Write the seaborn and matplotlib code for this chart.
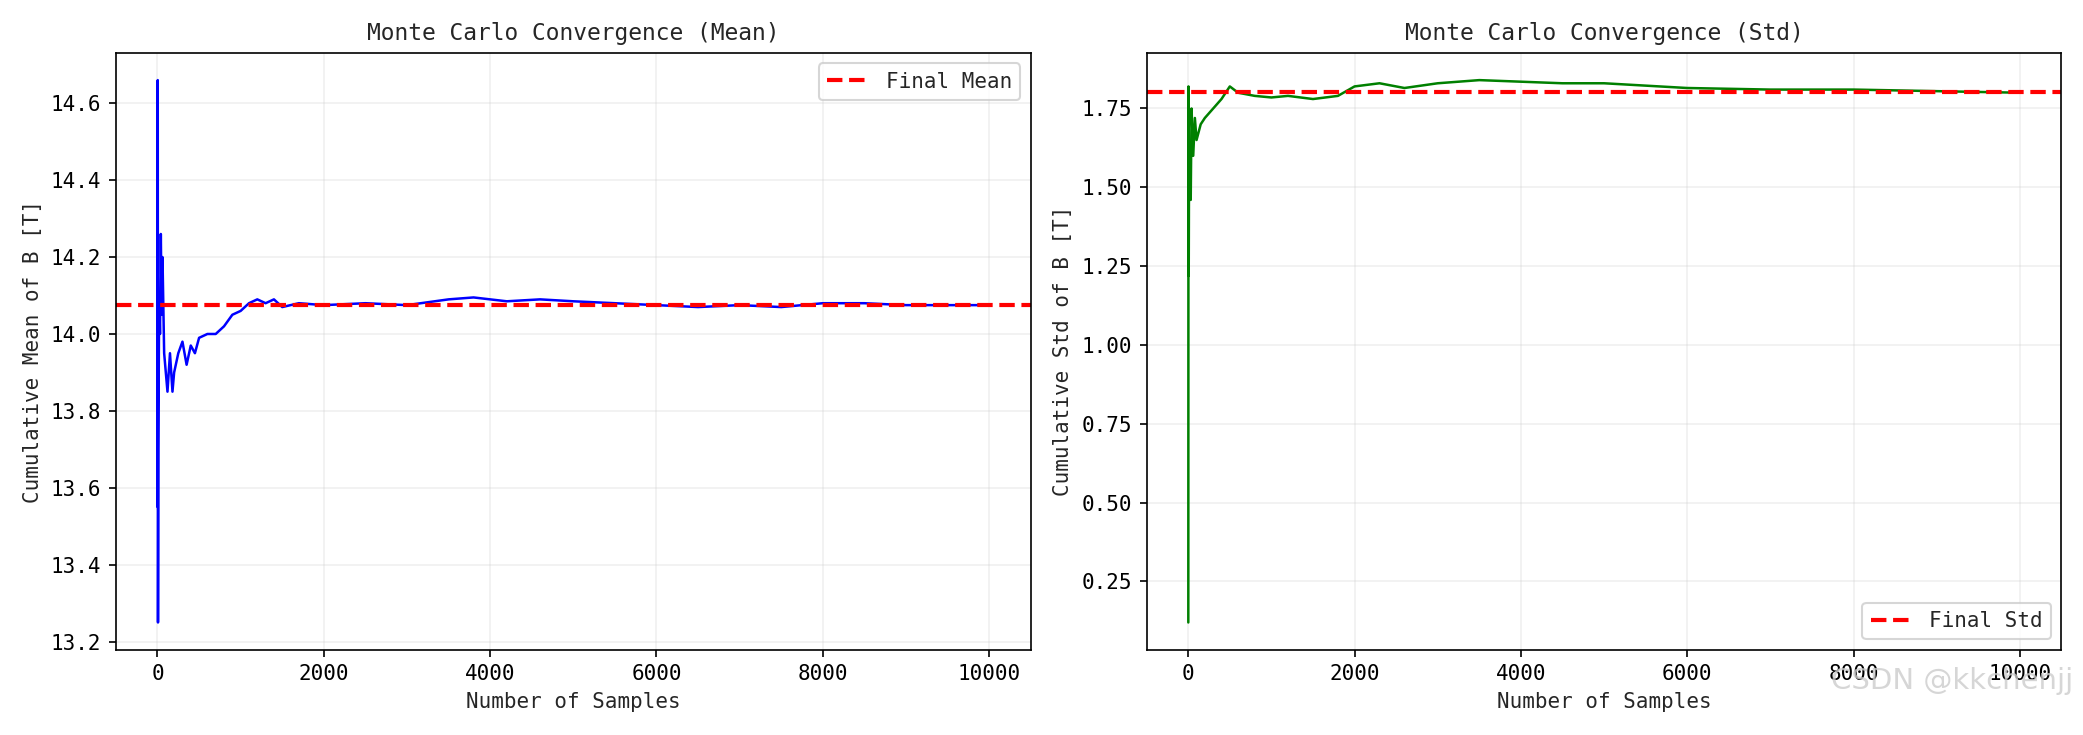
import numpy as np
import matplotlib
matplotlib.use('Agg')
import matplotlib.pyplot as plt
import seaborn as sns

# values
mean_x = [1, 3, 6, 10, 20, 30, 40, 50, 60, 80, 100, 120, 150, 180, 200, 250, 300, 350, 400,
          450, 500, 600, 700, 800, 900, 1000, 1100, 1200, 1300, 1400, 1500, 1700, 2000, 2500,
          3000, 3500, 3800, 4200, 4600, 5000, 5500, 6000, 6500, 7000, 7500, 8000, 8500, 9000, 10000]
mean_y = [13.55, 14.66, 13.25, 13.7, 14.1, 14.0, 14.26, 14.05, 14.2, 13.95, 13.9, 13.85, 13.95,
          13.85, 13.9, 13.95, 13.98, 13.92, 13.97, 13.95, 13.99, 14.0, 14.0, 14.02, 14.05, 14.06,
          14.08, 14.09, 14.08, 14.09, 14.07, 14.08, 14.075, 14.08, 14.075, 14.09, 14.095, 14.085,
          14.09, 14.085, 14.08, 14.075, 14.07, 14.075, 14.07, 14.08, 14.08, 14.075, 14.075]
final_mean = 14.075

std_x = [1, 3, 6, 10, 20, 30, 40, 60, 80, 100, 150, 200, 300, 400, 500, 550, 600, 800, 1000,
         1200, 1500, 1800, 2000, 2300, 2600, 3000, 3500, 4000, 4500, 5000, 6000, 7000, 8000, 9000, 10000]
std_y = [0.12, 1.82, 1.22, 1.6, 1.5, 1.46, 1.75, 1.6, 1.72, 1.65, 1.7, 1.72, 1.75, 1.78, 1.82,
         1.81, 1.8, 1.79, 1.785, 1.79, 1.78, 1.79, 1.82, 1.83, 1.815, 1.83, 1.84, 1.835, 1.83,
         1.83, 1.815, 1.81, 1.81, 1.805, 1.80]
final_std = 1.802

sns.set_style('ticks')
plt.rcParams['font.family'] = ['DejaVu Sans Mono', 'DejaVu Sans']
plt.rcParams['font.size'] = 10
plt.rcParams['axes.edgecolor'] = 'black'
plt.rcParams['xtick.color'] = 'black'
plt.rcParams['ytick.color'] = 'black'

fig, axes = plt.subplots(1, 2, figsize=(13.893, 4.9), dpi=150)

ax = axes[0]
sns.lineplot(x=mean_x, y=mean_y, ax=ax, color='blue', linewidth=1.2)
ax.axhline(final_mean, color='red', linestyle='--', linewidth=2, label='Final Mean')
ax.set_xlabel('Number of Samples')
ax.set_ylabel('Cumulative Mean of B [T]')
ax.set_title('Monte Carlo Convergence (Mean)', fontsize=11)
ax.set_xlim(-500, 10500)
ax.grid(True, alpha=0.3)
ax.legend(loc='upper right')

ax = axes[1]
sns.lineplot(x=std_x, y=std_y, ax=ax, color='green', linewidth=1.2)
ax.axhline(final_std, color='red', linestyle='--', linewidth=2, label='Final Std')
ax.set_xlabel('Number of Samples')
ax.set_ylabel('Cumulative Std of B [T]')
ax.set_title('Monte Carlo Convergence (Std)', fontsize=11)
ax.set_xlim(-500, 10500)
ax.grid(True, alpha=0.3)
ax.legend(loc='lower right')

plt.tight_layout()
fig.text(0.995, 0.055, 'CSDN @kkchenjj', ha='right', va='bottom', fontsize=14,
         color='#cccccc', alpha=0.8, family='DejaVu Sans')
fig.savefig('out.png', dpi=150)
